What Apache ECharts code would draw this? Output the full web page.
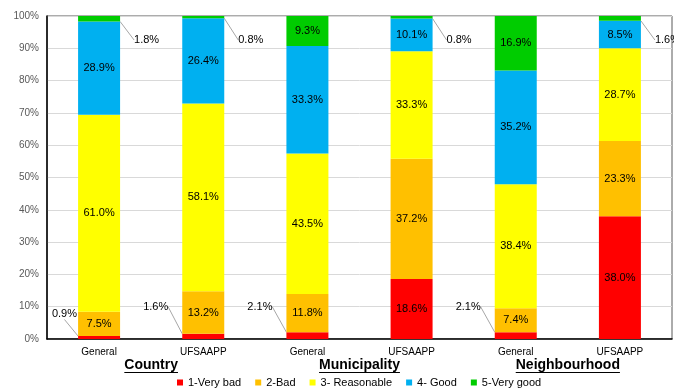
<!DOCTYPE html>
<html>
<head>
<meta charset="utf-8">
<script src="https://cdn.jsdelivr.net/npm/echarts@6/dist/echarts.min.js"></script>
<style>
  html, body { margin: 0; padding: 0; background: #fff; }
  #chart { width: 674px; height: 390px; }
</style>
</head>
<body>
<div id="chart"></div>
<script>
// categories
const categories = ["General", "UFSAAPP", "General", "UFSAAPP", "General", "UFSAAPP"];
const groups = ["Country", "Municipality", "Neighbourhood"];
// series values (%)
const veryBad = [0.9, 1.6, 2.1, 18.6, 2.1, 38.0];
const bad = [7.5, 13.2, 11.8, 37.2, 7.4, 23.3];
const reasonable = [61.0, 58.1, 43.5, 33.3, 38.4, 28.7];
const good = [28.9, 26.4, 33.3, 10.1, 35.2, 8.5];
const veryGood = [1.8, 0.8, 9.3, 0.8, 16.9, 1.6];
// y ticks
const yMin = 0, yMax = 100, yStep = 10;

const font = '"Liberation Sans", Arial, sans-serif';
const gridLeft = 47;
const chart = echarts.init(document.getElementById("chart"));

// small values get their label outside with a leader line
const small = v => v < 3;
const toItems = arr => arr.map(v => (small(v) ? { value: v, labelLine: { show: true } } : v));

const makeSeries = (name, data, color, side) => ({
  name: name,
  type: "bar",
  stack: "total",
  barWidth: 42,
  data: toItems(data),
  itemStyle: { color: color },
  label: {
    show: true,
    position: "inside",
    fontSize: 11,
    fontFamily: font,
    color: "#000",
    formatter: p => p.value.toFixed(1) + "%",
  },
  labelLine: {
    show: false,
    lineStyle: { color: "#a6a6a6", width: 1 },
  },
  labelLayout: params => {
    const v = data[params.dataIndex];
    if (!small(v)) return {};
    const r = params.rect;
    if (side === "left") {
      // upper left of the bar bottom, kept inside the plot
      const x = Math.max(r.x - 14, gridLeft + 30);
      const dy = x > r.x - 14 ? 25 : 32;
      return { x: x, y: r.y + r.height - dy, align: "right", verticalAlign: "middle" };
    }
    // lower right of the bar top
    return { x: r.x + r.width + 14, y: r.y + 24, align: "left", verticalAlign: "middle" };
  },
});

const option = {
  animation: false,
  textStyle: { fontFamily: font },
  grid: {
    left: gridLeft,
    right: 2,
    top: 16,
    bottom: 51,
    show: true,
    borderColor: "#595959",
    borderWidth: 1,
  },
  legend: {
    bottom: -3,
    left: 172,
    icon: "rect",
    itemWidth: 6,
    itemHeight: 6,
    itemGap: 14,
    textStyle: { fontSize: 11, color: "#000", fontFamily: font },
    data: ["1-Very bad", "2-Bad", "3- Reasonable", "4- Good", "5-Very good"],
  },
  xAxis: [
    {
      type: "category",
      data: categories,
      axisLine: { lineStyle: { color: "#000", width: 1.5 } },
      axisTick: { show: false },
      axisLabel: { fontSize: 10, color: "#000", margin: 8, fontFamily: font },
    },
    {
      type: "category",
      data: groups,
      position: "bottom",
      axisLine: { show: false },
      axisTick: { show: false },
      splitLine: { show: false },
      axisLabel: {
        fontSize: 14,
        fontWeight: "bold",
        color: "#000",
        margin: 19,
        fontFamily: font,
      },
    },
  ],
  yAxis: {
    type: "value",
    min: yMin,
    max: yMax,
    interval: yStep,
    axisLine: { show: true, lineStyle: { color: "#000", width: 1.5 } },
    axisTick: { show: false },
    axisLabel: { fontSize: 10, color: "#595959", formatter: "{value}%", fontFamily: font },
    splitLine: { lineStyle: { color: "#d9d9d9" } },
  },
  series: [
    makeSeries("1-Very bad", veryBad, "#ff0000", "left"),
    makeSeries("2-Bad", bad, "#ffc000", "left"),
    makeSeries("3- Reasonable", reasonable, "#ffff00", "left"),
    makeSeries("4- Good", good, "#00b0f0", "right"),
    makeSeries("5-Very good", veryGood, "#00cc00", "right"),
  ],
};
chart.setOption(option);

// underline group titles
const ctx = document.createElement("canvas").getContext("2d");
ctx.font = "bold 14px " + font;
const baseY = chart.convertToPixel({ yAxisIndex: 0 }, 0);
const underlines = groups.map((g, i) => {
  const cx = chart.convertToPixel({ xAxisIndex: 1 }, i);
  const w = ctx.measureText(g).width;
  return {
    type: "line",
    shape: { x1: cx - w / 2, y1: baseY + 33.5, x2: cx + w / 2, y2: baseY + 33.5 },
    style: { stroke: "#000", lineWidth: 1 },
  };
});
chart.setOption({ graphic: underlines });
</script>
</body>
</html>
